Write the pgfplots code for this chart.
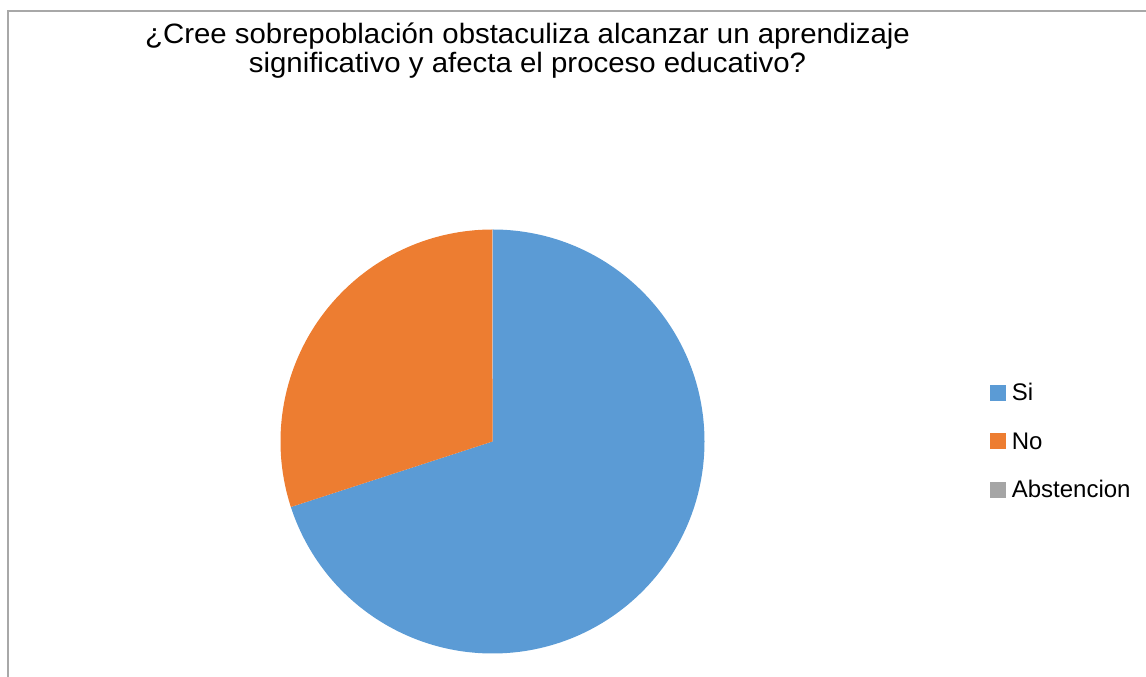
\documentclass[border=0pt]{standalone}
\usepackage{fontspec}
\setmainfont{Liberation Sans}
\usepackage{pgfplots}
\usepackage{pgfplotstable}
\pgfplotsset{compat=1.18}
\definecolor{siblue}{HTML}{5B9BD5}
\definecolor{noorange}{HTML}{ED7D31}
\definecolor{abgray}{HTML}{A5A5A5}
\definecolor{framegray}{HTML}{A8A8A8}

\pgfplotstableread{
label value
Si 70
No 30
Abstencion 0
}\piedata

\pgfplotstablegetelem{0}{value}\of\piedata \let\vSi\pgfplotsretval
\pgfplotstablegetelem{1}{value}\of\piedata \let\vNo\pgfplotsretval
\pgfplotstablegetelem{2}{value}\of\piedata \let\vAb\pgfplotsretval
\pgfmathsetmacro\total{\vSi+\vNo+\vAb}
\pgfmathsetmacro\aA{90}
\pgfmathsetmacro\aB{\aA-360*(\vSi/\total)}
\pgfmathsetmacro\aC{\aB-360*(\vNo/\total)}
\pgfmathsetmacro\aD{\aC-360*(\vAb/\total)}

\begin{document}
\begin{tikzpicture}
\begin{axis}[
  width=859.5pt, height=507.75pt, scale only axis,
  xmin=0, xmax=1146, ymin=0, ymax=677,
  hide axis, clip=false,
  legend cell align=left,
  legend style={draw=none, fill=none, at={(axis cs:990,294)}, anchor=north west,
    inner sep=0pt, row sep=23.6pt,
    font=\fontsize{18pt}{18pt}\selectfont,
    nodes={inner sep=0pt, text height=12.9pt, text depth=0pt}},
  /tikz/every odd column/.append style={column sep=4.5pt},
]
% frame
\draw[framegray, line width=1.6pt] (axis cs:1160,666) -- (axis cs:8,666) -- (axis cs:8,-20);
% pie slices (zero-valued slices are not drawn)
\ifdim\vSi pt>0pt
\fill[siblue] (axis cs:492.5,235.5) -- ++(\aA:159pt) arc[start angle=\aA, end angle=\aB, radius=159pt] -- cycle;
\fi
\ifdim\vNo pt>0pt
\fill[noorange] (axis cs:492.5,235.5) -- ++(\aB:159pt) arc[start angle=\aB, end angle=\aC, radius=159pt] -- cycle;
\fi
\ifdim\vAb pt>0pt
\fill[abgray] (axis cs:492.5,235.5) -- ++(\aC:159pt) arc[start angle=\aC, end angle=\aD, radius=159pt] -- cycle;
\fi
% title
\node[anchor=base, inner sep=0pt, font=\fontsize{21pt}{22pt}\selectfont\addfontfeature{FakeStretch=1.05}] at (axis cs:527.5,633) {¿Cree sobrepoblación obstaculiza alcanzar un aprendizaje};
\node[anchor=base, inner sep=0pt, font=\fontsize{21pt}{22pt}\selectfont\addfontfeature{FakeStretch=1.05}] at (axis cs:527.5,604) {significativo y afecta el proceso educativo?};
% legend
\addlegendimage{legend image code/.code={\fill[siblue] (0pt,-6pt) rectangle (11.25pt,5.25pt);}}
\addlegendentry{Si}
\addlegendimage{legend image code/.code={\fill[noorange] (0pt,-6pt) rectangle (11.25pt,5.25pt);}}
\addlegendentry{No}
\addlegendimage{legend image code/.code={\fill[abgray] (0pt,-6pt) rectangle (11.25pt,5.25pt);}}
\addlegendentry{Abstencion}
\end{axis}
\pgfresetboundingbox
\path[use as bounding box] (0,0) rectangle (859.5pt,507.75pt);
\end{tikzpicture}
\end{document}
